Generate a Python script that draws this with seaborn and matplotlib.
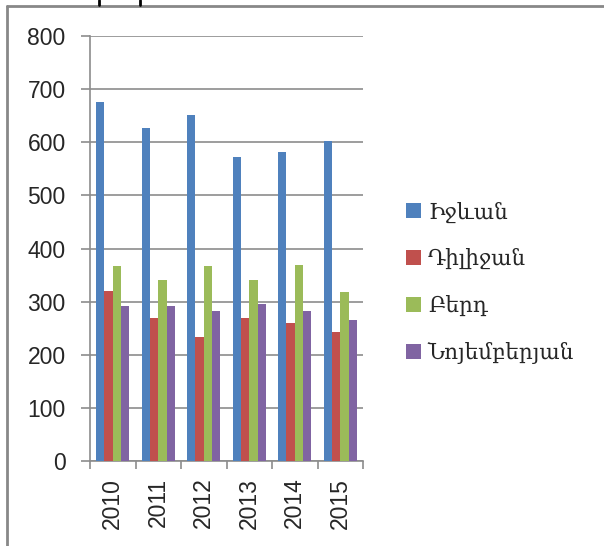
import numpy as np
import pandas as pd
import matplotlib
matplotlib.use("Agg")
import matplotlib.pyplot as plt
from matplotlib.lines import Line2D
import seaborn as sns

# Data
years = ["2010", "2011", "2012", "2013", "2014", "2015"]
regions = ["Իջևան", "Դիլիջան", "Բերդ", "Նոյեմբերյան"]
ijevan = [676, 627, 652, 573, 581, 603]
dilijan = [320, 269, 233, 269, 260, 243]
berd = [367, 340, 367, 340, 369, 318]
noyemberyan = [291, 291, 282, 296, 282, 265]
colors = ["#4F81BD", "#C0504D", "#9BBB59", "#8064A2"]

# Build long table for seaborn
df = pd.DataFrame({
    "year": years * 4,
    "region": np.repeat(regions, len(years)),
    "value": ijevan + dilijan + berd + noyemberyan,
})

sns.set_style("white")
plt.rcParams["font.family"] = ["Liberation Sans", "DejaVu Sans"]

fig = plt.figure(figsize=(6.04, 5.46), dpi=100)
ax = fig.add_axes([90 / 604, 1 - 461 / 546, (363 - 90) / 604, (461 - 36) / 546])

sns.barplot(data=df, x="year", y="value", hue="region", order=years,
            hue_order=regions, palette=colors, width=0.73, gap=0,
            saturation=1, linewidth=0, ax=ax, errorbar=None, zorder=3)

grey = "#8c8c8c"
ax.set_xlim(-0.5, 5.5)
ax.set_ylim(0, 800)
ax.set_yticks(range(0, 801, 100))
ax.yaxis.grid(True, color=grey, linewidth=1.2, zorder=0)
ax.set_axisbelow(True)
for s in ["top", "right"]:
    ax.spines[s].set_visible(False)
for s in ["left", "bottom"]:
    ax.spines[s].set_color(grey)
    ax.spines[s].set_linewidth(1.2)
ax.set_xlabel("")
ax.set_ylabel("")

ax.tick_params(axis="y", direction="out", length=6.5, width=1.2, color=grey,
               labelsize=16.5, pad=11, left=True)
ax.tick_params(axis="x", length=0, pad=12, labelsize=16.5, labelrotation=90)
ax.set_xticks(np.arange(-0.5, 6, 1), minor=True)
ax.tick_params(axis="x", which="minor", direction="out", length=6, width=1.2,
               color=grey, bottom=True)

# Legend at the right, like the original
handles, labels = ax.get_legend_handles_labels()
ax.get_legend().remove()
fig.legend(handles, labels, loc="upper left", bbox_to_anchor=(387 / 604, 1 - 182 / 546),
           frameon=False, prop={"family": ["DejaVu Serif", "DejaVu Sans"], "size": 15.5},
           handlelength=0.7, handleheight=0.7, handletextpad=0.3, labelspacing=1.15)

# outer frame lines (top and left) and the small black marks at the top
fig.add_artist(Line2D([7 / 604, 1], [1 - 6 / 546] * 2, color="#888888", lw=2))
fig.add_artist(Line2D([7 / 604] * 2, [0, 1 - 6 / 546], color="#888888", lw=2))
for xp in [99, 140]:
    fig.add_artist(Line2D([xp / 604] * 2, [1 - 5 / 546, 1], color="black", lw=2))

fig.savefig("out.png", dpi=100)
